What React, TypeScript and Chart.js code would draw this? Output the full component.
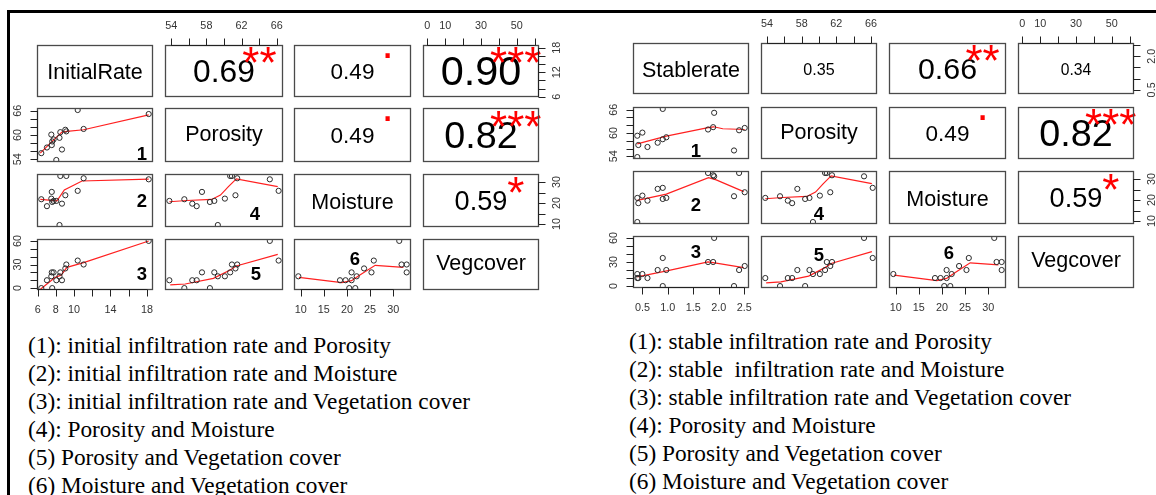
import React, { useEffect, useRef } from 'react';
import { Chart, registerables } from 'chart.js';
Chart.register(...registerables);

// ---------- data (15 sampling sites) ----------
const initialRate = [8.05, 6.4, 8.67, 7.02, 7.55, 7.6, 7.75, 8.4, 7.5, 8.49, 9.15, 9.04, 11.05, 18.2, 10.4];
const stableRate = [0.4, 2.3, 0.6, 0.42, 0.8, 0.9, 0.97, 0.4, 0.5, 2.4, 1.79, 2.51, 1.89, 1.91, 0.9];
const porosity = [53.8, 55.5, 56.4, 56.9, 57.5, 58.4, 58.9, 59.3, 60.1, 60.7, 60.9, 61.3, 61.5, 65.2, 66.2];
const moisture = [21.0, 21.8, 19.7, 18.5, 25.3, 20.5, 21.0, 9.5, 22.1, 32.9, 32.9, 23.7, 31.8, 31.3, 25.8];
const vegcover = [10, 0, 10, 10, 20, 0, 20, 15, 15, 20, 30, 25, 30, 60, 35];

// smoother (red) lines, [x, y]
const smoothIRPor = [[6.29, 55.5], [7.39, 58.0], [8.67, 60.7], [9.22, 60.9], [11.05, 61.3], [18.2, 65.0]];
const smoothIRMoist = [[6.29, 21.7], [8.12, 21.0], [8.93, 26.2], [10.87, 30.5], [18.2, 31.4]];
const smoothIRVeg = [[6.3, -1.5], [7.94, 13.7], [8.6, 16.7], [9.22, 26.4], [11.05, 32.3], [18.2, 59.9]];
const smoothSRPor = [[0.4, 57.2], [0.97, 59.2], [1.79, 61.4], [1.9, 61.6], [2.08, 61.1], [2.51, 60.9]];
const smoothSRMoist = [[0.4, 19.8], [0.97, 22.8], [1.8, 30.7], [1.95, 29.6], [2.49, 24.0]];
const smoothSRVeg = [[0.4, 11.4], [0.98, 18.9], [1.79, 30.2], [1.92, 29.0], [2.49, 23.1]];
const smoothPorMoist = [[53.8, 20.6], [55.8, 21.2], [58.6, 21.7], [59.6, 23.8], [60.5, 27.8], [61.4, 31.5], [66.1, 27.8]];
const smoothPorVeg = [[53.9, 4.0], [55.6, 5.2], [58.8, 12.4], [60.7, 23.0], [61.4, 28.1], [66.1, 42.9]];
const smoothMoistVeg = [[9.64, 13.7], [18.9, 6.9], [21.0, 9.5], [22.8, 16.7], [26.1, 29.0], [32.2, 26.4]];

// ticks and tick labels
const irTicks = [6, 8, 10, 12, 14, 16, 18];
const irBottomLabels = ['6', '8', '10', '', '14', '', '18'];
const irRightLabels = ['6', '', '', '12', '', '', '18'];
const srTicks = [0.5, 1, 1.5, 2, 2.5];
const srBottomLabels = ['0.5', '1.0', '1.5', '2.0', '2.5'];
const srRightLabels = ['0.5', '', '', '2.0', ''];
const porTicks = [54, 56, 58, 60, 62, 64, 66];
const porTopLabels = ['54', '', '58', '', '62', '', '66'];
const porLeftLabels = ['54', '', '', '60', '', '', '66'];
const moistTicks = [10, 15, 20, 25, 30];
const moistBottomLabels = ['10', '15', '20', '25', '30'];
const moistRightLabels = ['10', '', '20', '', '30'];
const vegTicks = [0, 10, 20, 30, 40, 50, 60];
const vegTopLabels = ['0', '10', '', '30', '', '50', ''];
const vegLeftLabels = ['0', '', '', '30', '', '', '60'];

// correlation texts (upper panels, row by row)
const leftCorr = ['0.69', '0.49', '0.90', '0.49', '0.82', '0.59'];
const leftStars = ['**', '.', '***', '.', '***', '*'];
const rightCorr = ['0.35', '0.66', '0.34', '0.49', '0.82', '0.59'];
const rightStars = ['', '**', '', '.', '***', '*'];

const leftNotes = [
  '(1): initial infiltration rate and Porosity',
  '(2): initial infiltration rate and Moisture',
  '(3): initial infiltration rate and Vegetation cover',
  '(4): Porosity and Moisture',
  '(5) Porosity and Vegetation cover',
  '(6) Moisture and Vegetation cover',
];
const rightNotes = [
  '(1): stable infiltration rate and Porosity',
  '(2): stable  infiltration rate and Moisture',
  '(3): stable infiltration rate and Vegetation cover',
  '(4): Porosity and Moisture',
  '(5) Porosity and Vegetation cover',
  '(6) Moisture and Vegetation cover',
];

// ---------- structure ----------
type Var = { name: string; values: number[]; ticks: number[]; labels: Record<string, string[]> };
const vIR: Var = { name: 'InitialRate', values: initialRate, ticks: irTicks, labels: { bottom: irBottomLabels, right: irRightLabels } };
const vSR: Var = { name: 'Stablerate', values: stableRate, ticks: srTicks, labels: { bottom: srBottomLabels, right: srRightLabels } };
const vPor: Var = { name: 'Porosity', values: porosity, ticks: porTicks, labels: { top: porTopLabels, left: porLeftLabels } };
const vMoist: Var = { name: 'Moisture', values: moisture, ticks: moistTicks, labels: { bottom: moistBottomLabels, right: moistRightLabels } };
const vVeg: Var = { name: 'Vegcover', values: vegcover, ticks: vegTicks, labels: { top: vegTopLabels, left: vegLeftLabels } };

const smoothers: Record<string, number[][]> = {
  'InitialRate|Porosity': smoothIRPor,
  'InitialRate|Moisture': smoothIRMoist,
  'InitialRate|Vegcover': smoothIRVeg,
  'Stablerate|Porosity': smoothSRPor,
  'Stablerate|Moisture': smoothSRMoist,
  'Stablerate|Vegcover': smoothSRVeg,
  'Porosity|Moisture': smoothPorMoist,
  'Porosity|Vegcover': smoothPorVeg,
  'Moisture|Vegcover': smoothMoistVeg,
};

type Matrix = {
  vars: Var[];
  corr: string[];
  stars: string[];
  colX: number[]; colW: number[]; rowY: number[]; rowH: number[];
  tags: Record<string, [string, number, number]>;
};

const leftMatrix: Matrix = {
  vars: [vIR, vPor, vMoist, vVeg], corr: leftCorr, stars: leftStars,
  colX: [37, 165, 294, 423], colW: [116, 118, 117, 116],
  rowY: [45, 108, 174, 239], rowH: [52, 54, 53, 51],
  tags: { '1,0': ['1', 105, 45], '2,0': ['2', 105, 26], '3,0': ['3', 105, 34], '2,1': ['4', 90, 39], '3,1': ['5', 91, 34], '3,2': ['6', 61, 19] },
};
const rightMatrix: Matrix = {
  vars: [vSR, vPor, vMoist, vVeg], corr: rightCorr, stars: rightStars,
  colX: [633, 761, 889, 1018], colW: [116, 116, 117, 116],
  rowY: [43, 107, 171, 236], rowH: [51, 52, 53, 52],
  tags: { '1,0': ['1', 63, 43], '2,0': ['2', 63, 33], '3,0': ['3', 63, 15], '2,1': ['4', 58, 42], '3,1': ['5', 58, 18], '3,2': ['6', 60, 16] },
};

const PAD = 34;
const SANS = '"Liberation Sans", Arial, sans-serif';

function paddedRange(v: number[]): [number, number] {
  const mn = Math.min(...v), mx = Math.max(...v);
  const r = mx - mn;
  return [mn - 0.04 * r, mx + 0.04 * r];
}

function centeredText(ctx: CanvasRenderingContext2D, s: string, cx: number, cy: number) {
  const m = ctx.measureText(s);
  ctx.textAlign = 'center';
  ctx.textBaseline = 'alphabetic';
  ctx.fillText(s, cx, cy + (m.actualBoundingBoxAscent - m.actualBoundingBoxDescent) / 2);
}

function drawAxis(ctx: CanvasRenderingContext2D, side: string, scale: any, ticks: number[], labels: string[], a: any) {
  ctx.save();
  ctx.strokeStyle = '#222';
  ctx.lineWidth = 1;
  ctx.fillStyle = '#333';
  ctx.font = `10.8px ${SANS}`;
  ctx.textAlign = 'center';
  ctx.textBaseline = 'middle';
  const ps = ticks.map((v) => scale.getPixelForValue(v));
  const TL = 7;
  if (side === 'top' || side === 'bottom') {
    const y0 = side === 'top' ? Math.round(a.top) + 0.5 : Math.round(a.bottom) - 0.5;
    const d = side === 'top' ? -1 : 1;
    ctx.beginPath();
    ctx.moveTo(ps[0], y0); ctx.lineTo(ps[ps.length - 1], y0);
    ps.forEach((p) => { const x = Math.round(p) + 0.5; ctx.moveTo(x, y0); ctx.lineTo(x, y0 + d * TL); });
    ctx.stroke();
    ps.forEach((p, k) => { if (labels[k]) ctx.fillText(labels[k], p, y0 + d * (side === 'top' ? 19 : 20.5)); });
  } else {
    const x0 = side === 'left' ? Math.round(a.left) + 0.5 : Math.round(a.right) - 0.5;
    const d = side === 'left' ? -1 : 1;
    ctx.beginPath();
    ctx.moveTo(x0, ps[0]); ctx.lineTo(x0, ps[ps.length - 1]);
    ps.forEach((p) => { const y = Math.round(p) + 0.5; ctx.moveTo(x0, y); ctx.lineTo(x0 + d * TL, y); });
    ctx.stroke();
    ps.forEach((p, k) => {
      if (!labels[k]) return;
      ctx.save();
      ctx.translate(x0 + d * 19, p);
      ctx.rotate(-Math.PI / 2);
      ctx.fillText(labels[k], 0, 0);
      ctx.restore();
    });
  }
  ctx.restore();
}

function upperIndex(i: number, j: number) {
  let k = 0;
  for (let r = 0; r < 4; r++) for (let c = r + 1; c < 4; c++) { if (r === i && c === j) return k; k++; }
  return -1;
}

function Cell({ m, i, j }: { m: Matrix; i: number; j: number }) {
  const ref = useRef<HTMLCanvasElement>(null);
  const w = m.colW[j], h = m.rowH[i];
  useEffect(() => {
    const xv = m.vars[j], yv = m.vars[i];
    const [xmin, xmax] = paddedRange(xv.values);
    const [ymin, ymax] = paddedRange(yv.values);
    const datasets: any[] = [];
    if (i > j) {
      datasets.push({
        type: 'scatter',
        data: xv.values.map((x, k) => ({ x, y: yv.values[k] })),
        pointRadius: 2.6,
        pointBorderWidth: 1,
        pointBorderColor: '#2a2a2a',
        pointBackgroundColor: 'rgba(0,0,0,0)',
        showLine: false,
        clip: 0,
      });
      const sm = smoothers[`${xv.name}|${yv.name}`] || [];
      datasets.push({
        type: 'line',
        data: sm.map(([x, y]) => ({ x, y })),
        borderColor: '#ff2020',
        borderWidth: 1.2,
        pointRadius: 0,
        tension: 0,
        fill: false,
        clip: 0,
      });
    }
    const panelPlugin = {
      id: 'rPanel',
      afterDraw(chart: any) {
        const ctx: CanvasRenderingContext2D = chart.ctx;
        const a = chart.chartArea;
        const cx = (a.left + a.right) / 2, cy = (a.top + a.bottom) / 2;
        ctx.save();
        if (i === j) {
          ctx.fillStyle = '#000';
          ctx.font = `21.5px ${SANS}`;
          centeredText(ctx, xv.name, cx, cy);
        } else if (i < j) {
          const k = upperIndex(i, j);
          const txt = m.corr[k];
          const r = Math.abs(parseFloat(txt));
          ctx.fillStyle = '#000';
          ctx.font = `${46 * r}px ${SANS}`;
          centeredText(ctx, txt, cx, cy);
          const st = m.stars[k];
          if (st) {
            ctx.fillStyle = '#ff0000';
            ctx.font = `44px ${SANS}`;
            centeredText(ctx, st, a.left + 0.8 * (a.right - a.left), a.bottom - 0.8 * (a.bottom - a.top));
          }
        } else {
          const tag = m.tags[`${i},${j}`];
          if (tag) {
            ctx.fillStyle = '#000';
            ctx.font = `bold 18.5px ${SANS}`;
            centeredText(ctx, tag[0], a.left + tag[1], a.top + tag[2]);
          }
        }
        ctx.strokeStyle = '#4a4a4a';
        ctx.lineWidth = 1.3;
        ctx.strokeRect(Math.round(a.left) + 0.5, Math.round(a.top) + 0.5, Math.round(a.right - a.left) - 1, Math.round(a.bottom - a.top) - 1);
        ctx.restore();
        const xs = chart.scales.x, ys = chart.scales.y;
        if (i === 0 && j % 2 === 1) drawAxis(ctx, 'top', xs, xv.ticks, xv.labels.top || [], a);
        if (i === 3 && j % 2 === 0) drawAxis(ctx, 'bottom', xs, xv.ticks, xv.labels.bottom || [], a);
        if (j === 0 && i % 2 === 1) drawAxis(ctx, 'left', ys, yv.ticks, yv.labels.left || [], a);
        if (j === 3 && i % 2 === 0) drawAxis(ctx, 'right', ys, yv.ticks, yv.labels.right || [], a);
      },
    };
    const chart = new Chart(ref.current as HTMLCanvasElement, {
      type: 'scatter',
      data: { datasets },
      options: {
        animation: false,
        responsive: false,
        events: [],
        layout: { padding: PAD },
        plugins: { legend: { display: false }, tooltip: { enabled: false }, title: { display: false } },
        scales: {
          x: { type: 'linear', min: xmin, max: xmax, display: false },
          y: { type: 'linear', min: ymin, max: ymax, display: false },
        },
      } as any,
      plugins: [panelPlugin],
    } as any);
    return () => chart.destroy();
  }, []);
  return (
    <canvas
      ref={ref}
      width={w + 2 * PAD}
      height={h + 2 * PAD}
      style={{ position: 'absolute', left: m.colX[j] - PAD, top: m.rowY[i] - PAD, width: w + 2 * PAD, height: h + 2 * PAD }}
    />
  );
}

function MatrixView({ m }: { m: Matrix }) {
  const cells = [];
  for (let i = 0; i < 4; i++) for (let j = 0; j < 4; j++) cells.push(<Cell key={`${i}-${j}`} m={m} i={i} j={j} />);
  return <>{cells}</>;
}

function Notes({ lines, left, firstCenter }: { lines: string[]; left: number; firstCenter: number }) {
  return (
    <>
      {lines.map((s, k) => (
        <div
          key={k}
          style={{
            position: 'absolute', left, top: firstCenter + k * 28 - 14, height: 28, lineHeight: '28px',
            fontFamily: '"Liberation Serif", "Times New Roman", serif', fontSize: 23.3, color: '#000', whiteSpace: 'pre',
          }}
        >
          {s}
        </div>
      ))}
    </>
  );
}

export default function App() {
  return (
    <div style={{ position: 'absolute', left: 0, top: 0, width: 1156, height: 495, background: '#fff', overflow: 'hidden' }}>
      <div style={{ position: 'absolute', left: 7, top: 10, width: 1156, height: 500, borderTop: '3px solid #000', borderLeft: '3px solid #000' }} />
      <MatrixView m={leftMatrix} />
      <MatrixView m={rightMatrix} />
      <Notes lines={leftNotes} left={28} firstCenter={345} />
      <Notes lines={rightNotes} left={629} firstCenter={341} />
    </div>
  );
}
